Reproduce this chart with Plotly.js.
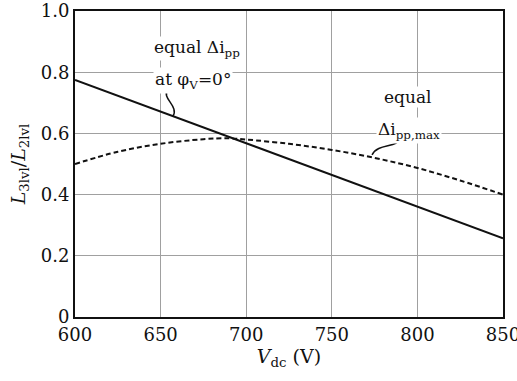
<!DOCTYPE html>
<html>
<head>
<meta charset="utf-8">
<script src="https://cdn.plot.ly/plotly-3.0.1.min.js"></script>
<style>html,body{margin:0;padding:0;background:#fff;}#chart{width:517px;height:381px;}</style>
</head>
<body>
<div id="chart"></div>
<script>
// Data
const vdcSolid = [600, 850];
const ratioSolid = [0.775, 0.257];
const vdcDashed = [600, 625, 650, 675, 690, 700, 725, 750, 775, 800, 825, 850];
const ratioDashed = [0.500, 0.540, 0.566, 0.581, 0.584, 0.580, 0.566, 0.546, 0.520, 0.487, 0.446, 0.400];
const xTicks = [600, 650, 700, 750, 800, 850];
const yTicks = [0, 0.2, 0.4, 0.6, 0.8, 1.0];
const yTickText = ['0', '0.2', '0.4', '0.6', '0.8', '1.0'];

const fam = 'DejaVu Serif';
const font = {family: fam, color: '#111', size: 18};
const titleFont = {family: fam, color: '#111', size: 19};
const annFont = {family: fam, color: '#111', size: 17};

const traces = [
  {x: vdcSolid, y: ratioSolid, mode: 'lines', line: {color: '#111', width: 2}, hoverinfo: 'none'},
  {x: vdcDashed, y: ratioDashed, mode: 'lines', line: {color: '#111', width: 2, dash: '5px,3px', shape: 'spline', smoothing: 1}, hoverinfo: 'none'}
];

const layout = {
  width: 517, height: 381,
  margin: {l: 75, r: 14, t: 11, b: 64},
  paper_bgcolor: '#fff', plot_bgcolor: '#fff',
  showlegend: false,
  font: font,
  xaxis: {
    range: [600, 850], tickvals: xTicks, ticktext: xTicks.map(String),
    showgrid: true, gridcolor: '#a0a0a0', gridwidth: 1,
    showline: true, linecolor: '#111', linewidth: 2, mirror: true,
    ticks: '', zeroline: false, tickfont: font, ticklabeloverflow: 'allow',
    title: {text: '<i>V</i><sub>dc</sub> (V)', font: titleFont, standoff: 6}
  },
  yaxis: {
    range: [0, 1.0], tickvals: yTicks, ticktext: yTickText,
    showgrid: true, gridcolor: '#a0a0a0', gridwidth: 1,
    showline: true, linecolor: '#111', linewidth: 2, mirror: true,
    ticks: '', zeroline: false, tickfont: font, ticklabeloverflow: 'allow',
    title: {text: '<i>L</i><sub>3lvl</sub>/<i>L</i><sub>2lvl</sub>', font: titleFont, standoff: 10}
  },
  annotations: [
    {x: 645.5, y: 0.879, xref: 'x', yref: 'y', xanchor: 'left', yanchor: 'middle', showarrow: false,
     text: 'equal Δi<sub>pp</sub>', font: annFont, bgcolor: '#fff', borderpad: 0},
    {x: 645.5, y: 0.772, xref: 'x', yref: 'y', xanchor: 'left', yanchor: 'middle', showarrow: false,
     text: 'at φ<sub>V</sub>=0°', font: annFont, bgcolor: '#fff', borderpad: 1},
    {x: 794, y: 0.719, xref: 'x', yref: 'y', xanchor: 'center', yanchor: 'middle', showarrow: false,
     text: 'equal', font: annFont, bgcolor: '#fff', borderpad: 0},
    {x: 776, y: 0.611, xref: 'x', yref: 'y', xanchor: 'left', yanchor: 'middle', showarrow: false,
     text: 'Δi<sub>pp,max</sub>', font: annFont, bgcolor: '#fff', borderpad: 1}
  ],
  shapes: [
    {type: 'path', xref: 'x', yref: 'y', path: 'M 654.3,0.745 C 650,0.715 661,0.69 657.2,0.656', line: {color: '#111', width: 1.5}},
    {type: 'path', xref: 'x', yref: 'y', path: 'M 789.5,0.585 C 789,0.55 777,0.57 773.5,0.53', line: {color: '#111', width: 1.5}}
  ]
};

Plotly.newPlot('chart', traces, layout, {staticPlot: true, displayModeBar: false});
</script>
</body>
</html>
